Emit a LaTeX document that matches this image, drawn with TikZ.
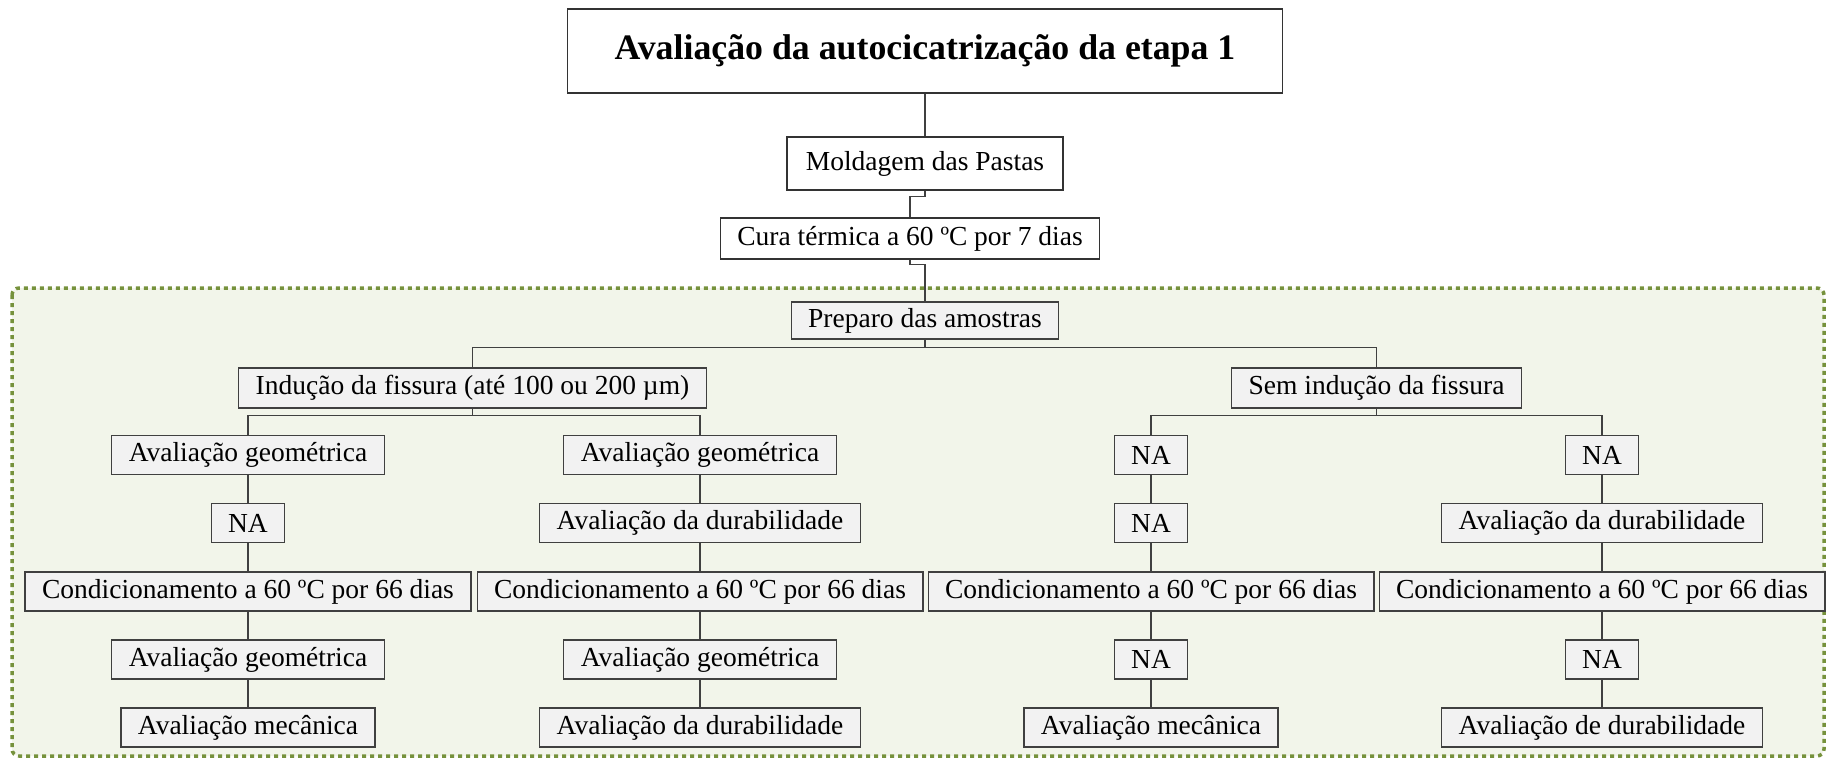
\documentclass[tikz,border=0pt]{standalone}
\usepackage{fontspec}
\setmainfont{Liberation Serif}
\definecolor{gbg}{HTML}{F2F5EA}
\definecolor{gdot}{HTML}{76923C}
\definecolor{boxfill}{HTML}{F2F2F2}
\definecolor{edge}{HTML}{404040}
\tikzset{
  box/.style={draw=edge, line width=1.2pt, fill=boxfill, inner xsep=17pt, inner ysep=0pt,
    minimum height=39pt, font=\fontsize{27.5}{33}\selectfont, anchor=center},
  wbox/.style={box, fill=white, draw=black!80},
  link/.style={draw=edge, line width=1.3pt},
}
\begin{document}
\begin{tikzpicture}[x=1pt,y=-1pt]
\useasboundingbox (0,0) rectangle (1827,759);
\draw[gdot, fill=gbg, line width=3.5pt, dash pattern=on 4pt off 4pt, rounded corners=7pt]
  (12,288) rectangle (1824,756);

\node[wbox, minimum width=715pt, minimum height=84pt, font=\bfseries\fontsize{35.8}{42}\selectfont] (title) at (925,51) {Avaliação da autocicatrização da etapa 1};
\node[wbox, minimum height=53pt, minimum width=276pt] (mold) at (925,163.5) {Moldagem das Pastas};
\node[wbox, minimum height=41pt, minimum width=378pt] (cura) at (910,238.5) {Cura térmica a 60 ºC por 7 dias};
\node[box, minimum height=37pt, minimum width=266pt] (prep) at (925,320.5) {Preparo das amostras};
\node[box, minimum height=40pt] (ind) at (472.5,388) {Indução da fissura (até 100 ou 200 µm)};
\node[box, minimum height=40pt] (sem) at (1376.5,388) {Sem indução da fissura};

% column 1
\node[box] (a1) at (248,455) {Avaliação geométrica};
\node[box] (b1) at (248,523) {NA};
\node[box] (c1) at (248,591.5) {Condicionamento a 60 ºC por 66 dias};
\node[box] (d1) at (248,659.5) {Avaliação geométrica};
\node[box] (e1) at (248,727.5) {Avaliação mecânica};
% column 2
\node[box] (a2) at (700,455) {Avaliação geométrica};
\node[box] (b2) at (700,523) {Avaliação da durabilidade};
\node[box] (c2) at (700,591.5) {Condicionamento a 60 ºC por 66 dias};
\node[box] (d2) at (700,659.5) {Avaliação geométrica};
\node[box] (e2) at (700,727.5) {Avaliação da durabilidade};
% column 3
\node[box] (a3) at (1151,455) {NA};
\node[box] (b3) at (1151,523) {NA};
\node[box] (c3) at (1151,591.5) {Condicionamento a 60 ºC por 66 dias};
\node[box] (d3) at (1151,659.5) {NA};
\node[box] (e3) at (1151,727.5) {Avaliação mecânica};
% column 4
\node[box] (a4) at (1602,455) {NA};
\node[box] (b4) at (1602,523) {Avaliação da durabilidade};
\node[box] (c4) at (1602,591.5) {Condicionamento a 60 ºC por 66 dias};
\node[box] (d4) at (1602,659.5) {NA};
\node[box] (e4) at (1602,727.5) {Avaliação de durabilidade};

\draw[link] (title.south) -- (mold.north);
\draw[link] (mold.south) -- ++(0,6) -| (cura.north);
\draw[link] (cura.south) -- ++(0,5) -| (prep.north);
\draw[link] (prep.south) -- ++(0,8) -| (ind.north);
\draw[link] (prep.south) -- ++(0,8) -| (sem.north);
\draw[link] (ind.south) -- ++(0,7) -| (a1.north);
\draw[link] (ind.south) -- ++(0,7) -| (a2.north);
\draw[link] (sem.south) -- ++(0,7) -| (a3.north);
\draw[link] (sem.south) -- ++(0,7) -| (a4.north);
\foreach \c in {1,2,3,4}{
  \draw[link] (a\c) -- (b\c);
  \draw[link] (b\c) -- (c\c);
  \draw[link] (c\c) -- (d\c);
  \draw[link] (d\c) -- (e\c);
}
\end{tikzpicture}
\end{document}
